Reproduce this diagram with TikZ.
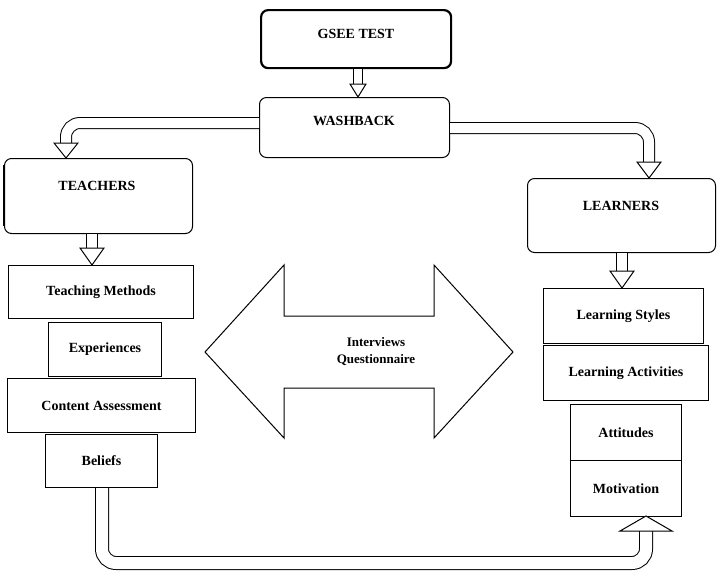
\documentclass[tikz,border=0pt]{standalone}
\usepackage{fontspec}
\setmainfont{Liberation Serif}
\begin{document}
\begin{tikzpicture}[x=1pt,y=-1pt,
  lbl/.style={font=\bfseries\fontsize{14}{16}\selectfont},
  rbox/.style={draw,rounded corners=7pt,line width=1pt,anchor=north west,inner sep=0pt,lbl},
  sbox/.style={draw,line width=1pt,anchor=north west,inner sep=0pt,lbl,align=center},
  pipe/.style={double,double distance=10pt,line width=1pt,rounded corners=14pt},
  head/.style={draw,fill=white,line width=1pt}]
\useasboundingbox (0,0) rectangle (720,582);
% rounded boxes
\node[rbox,line width=2.2pt,minimum width=190pt,minimum height=58pt] (g) at (260,9) {};
\node[lbl] at (356,34) {GSEE TEST};
\node[rbox,minimum width=190pt,minimum height=60pt] (w) at (259,97) {};
\node[lbl] at (354,121) {WASHBACK};
\node[rbox,minimum width=188pt,minimum height=75pt] (t) at (4,158) {};
\node[lbl] at (97,186) {TEACHERS};
\draw[line width=2.5pt] (4,165) -- (4,226);
\node[rbox,minimum width=188pt,minimum height=74pt] (l) at (527,178) {};
\node[lbl] at (621,206) {LEARNERS};
% square boxes
\node[sbox,minimum width=185pt,minimum height=53pt] (tm) at (8,265) {Teaching Methods};
\node[sbox,minimum width=113pt,minimum height=54pt] (ex) at (48,322) {Experiences};
\node[sbox,minimum width=188pt,minimum height=54pt] (ca) at (7,378) {Content Assessment};
\node[sbox,minimum width=112pt,minimum height=53pt] (be) at (45,434) {Beliefs};
\node[sbox,minimum width=160pt,minimum height=55pt] (ls) at (543,288) {Learning Styles};
\node[sbox,minimum width=165pt,minimum height=55pt] (la) at (543,345) {Learning Activities};
\node[sbox,minimum width=111pt,minimum height=56pt] (at) at (570,404) {Attitudes};
\node[sbox,minimum width=111pt,minimum height=56pt] (mo) at (570,460) {Motivation};
% straight down arrows
\draw[pipe,double distance=8pt] (g.south -| 358,0) -- (358,85);
\draw[head] (350,84) -- (366,84) -- (358,97) -- cycle;
\draw[pipe] (t.south -| 92,0) -- (92,249);
\draw[head] (80,248) -- (104,248) -- (92,265) -- cycle;
\draw[pipe] (l.south -| 622,0) -- (622,272);
\draw[head] (610,271) -- (634,271) -- (622,288) -- cycle;
% curved arrows
\draw[pipe] (w.west |- 0,123) -- (66,123) -- (66,145);
\draw[head] (54,143) -- (78,143) -- (66,158) -- cycle;
\draw[pipe] (w.east |- 0,128) -- (649,128) -- (649,164);
\draw[head] (637,162) -- (661,162) -- (649,178) -- cycle;
\draw[pipe,double distance=12pt] (be.south -| 102,0) -- (102,563) -- (646,563) -- (646,530);
\draw[head] (620,531) -- (672,531) -- (646,516) -- cycle;
% big double arrow
\draw[line width=1pt,fill=white] (205,352) -- (284,265) -- (284,316) -- (434,316) -- (434,265)
  -- (513,352) -- (434,438) -- (434,388) -- (284,388) -- (284,438) -- cycle;
\node[font=\bfseries\fontsize{13}{17}\selectfont,align=center] (iq) at (376,352) {Interviews\\Questionnaire};
\end{tikzpicture}
\end{document}
